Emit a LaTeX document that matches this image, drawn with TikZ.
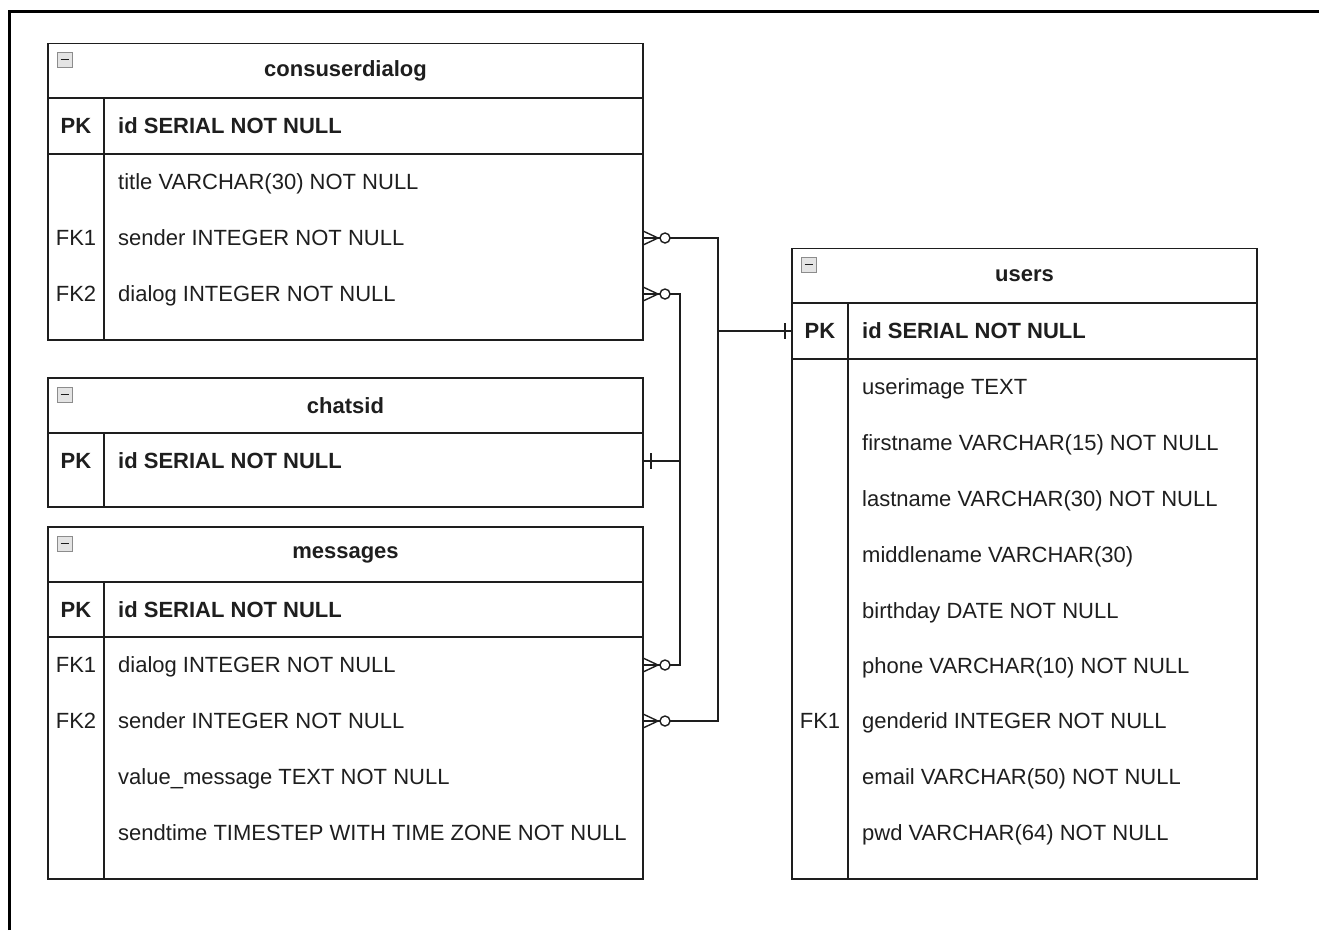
\documentclass[tikz,border=0pt]{standalone}
\usepackage{fontspec}
\setmainfont{Liberation Sans}
\usepackage{xcolor}
\usepackage{tikz}
\usetikzlibrary{positioning,calc}
\definecolor{erInk}{HTML}{1E1E1E}
\definecolor{erGray}{HTML}{8C8C8C}
\definecolor{erIcon}{HTML}{E4E4E4}
\newcommand{\erfont}{\fontsize{22}{26}\selectfont}

\begin{document}
\begin{tikzpicture}[
  x=1pt, y=-1pt,
  font=\erfont,
  tline/.style={draw=erInk, line width=1.4pt, inner sep=0pt, outer sep=0pt},
  thead/.style={tline, font=\erfont\bfseries, text=erInk, minimum height=55pt},
  kcell/.style={tline, anchor=north west, minimum width=56pt},
  fcell/.style={tline, anchor=north west},
  ktxt/.style={text=erInk, text height=15.75pt, text depth=0pt, inner sep=0pt},
  ftxt/.style={ktxt, anchor=west},
  pkey/.style={font=\erfont\bfseries},
  icon/.style={draw=erGray, fill=erIcon, line width=0.9pt, minimum size=15pt, inner sep=0pt,
    path picture={\draw[erInk, line width=1.8pt]
      ([xshift=3.5pt]path picture bounding box.west) -- ([xshift=-3.5pt]path picture bounding box.east);}},
  rel/.style={draw=erInk, line width=1.4pt},
  frame/.style={draw=black, line width=3pt},
  zeromany/.pic={
    \draw[rel] (0,-7) -- (15,0) -- (0,7);
    \draw[rel, fill=white] (22,0) circle[radius=5pt];
  },
  onebar/.pic={\draw[rel] (#1,-8) -- (#1,8);},
]
\useasboundingbox (0,0) rectangle (1319,930);

% ---- Rahmen ----
\draw[frame] (9.5,930) -- (9.5,11.5) -- (1319,11.5);

% ---- consuserdialog ----
\node[thead, minimum width=595pt] (cudHead) at (345.5,71) {consuserdialog};
\node[kcell, minimum height=56pt] (cudKeyBox) at (48,98) {};
\node[fcell, minimum width=539pt, minimum height=56pt] (cudPKBox) at (104,98) {};
\node[kcell, minimum height=186pt] (cudKeyCol) at (48,154) {};
\node[fcell, minimum width=539pt, minimum height=186pt] (cudFieldCol) at (104,154) {};
\node[icon] (cudIcon) at (64.5,59.5) {};
\node[ktxt, pkey] (cudPK) at (76,126) {PK};
\node[ftxt, pkey] (cudId) at (118,126) {id SERIAL NOT NULL};
\node[ftxt] (cudTitle) at (118,182) {title VARCHAR(30) NOT NULL};
\node[ktxt] (cudFK1) at (76,238) {FK1};
\node[ftxt] (cudSender) at (118,238) {sender INTEGER NOT NULL};
\node[ktxt] (cudFK2) at (76,294) {FK2};
\node[ftxt] (cudDialog) at (118,294) {dialog INTEGER NOT NULL};

% ---- chatsid ----
\node[thead, minimum width=595pt] (chtHead) at (345.5,405.5) {chatsid};
\node[kcell, minimum height=74pt] (chtKeyBox) at (48,433) {};
\node[fcell, minimum width=539pt, minimum height=74pt] (chtPKBox) at (104,433) {};
\node[icon] (chtIcon) at (64.5,394.5) {};
\node[ktxt, pkey] (chtPK) at (76,461) {PK};
\node[ftxt, pkey] (chtId) at (118,461) {id SERIAL NOT NULL};

% ---- messages ----
\node[thead, minimum width=595pt] (msgHead) at (345.5,554.5) {messages};
\node[kcell, minimum height=55pt] (msgKeyBox) at (48,582) {};
\node[fcell, minimum width=539pt, minimum height=55pt] (msgPKBox) at (104,582) {};
\node[kcell, minimum height=242pt] (msgKeyCol) at (48,637) {};
\node[fcell, minimum width=539pt, minimum height=242pt] (msgFieldCol) at (104,637) {};
\node[icon] (msgIcon) at (64.5,543.5) {};
\node[ktxt, pkey] (msgPK) at (76,609.5) {PK};
\node[ftxt, pkey] (msgId) at (118,609.5) {id SERIAL NOT NULL};
\node[ktxt] (msgFK1) at (76,665) {FK1};
\node[ftxt] (msgDialog) at (118,665) {dialog INTEGER NOT NULL};
\node[ktxt] (msgFK2) at (76,721) {FK2};
\node[ftxt] (msgSender) at (118,721) {sender INTEGER NOT NULL};
\node[ftxt] (msgValue) at (118,777) {value\_message TEXT NOT NULL};
\node[ftxt] (msgTime) at (118,833) {sendtime TIMESTEP WITH TIME ZONE NOT NULL};

% ---- users ----
\node[thead, minimum width=465pt] (usrHead) at (1024.5,276) {users};
\node[kcell, minimum height=56pt] (usrKeyBox) at (792,303) {};
\node[fcell, minimum width=409pt, minimum height=56pt] (usrPKBox) at (848,303) {};
\node[kcell, minimum height=520pt] (usrKeyCol) at (792,359) {};
\node[fcell, minimum width=409pt, minimum height=520pt] (usrFieldCol) at (848,359) {};
\node[icon] (usrIcon) at (808.5,264.5) {};
\node[ktxt, pkey] (usrPK) at (820,331) {PK};
\node[ftxt, pkey] (usrId) at (862,331) {id SERIAL NOT NULL};
\node[ftxt] (usrImage) at (862,387) {userimage TEXT};
\node[ftxt] (usrFirst) at (862,443) {firstname VARCHAR(15) NOT NULL};
\node[ftxt] (usrLast) at (862,499) {lastname VARCHAR(30) NOT NULL};
\node[ftxt] (usrMiddle) at (862,555) {middlename VARCHAR(30)};
\node[ftxt] (usrBirth) at (862,611) {birthday DATE NOT NULL};
\node[ftxt] (usrPhone) at (862,666) {phone VARCHAR(10) NOT NULL};
\node[ktxt] (usrFK1) at (820,721) {FK1};
\node[ftxt] (usrGender) at (862,721) {genderid INTEGER NOT NULL};
\node[ftxt] (usrMail) at (862,777) {email VARCHAR(50) NOT NULL};
\node[ftxt] (usrPwd) at (862,833) {pwd VARCHAR(64) NOT NULL};

% ---- Beziehungen ----
\draw[rel] (cudSender -| cudFieldCol.east) -- ++(75,0) |- (usrKeyBox.west);
\draw[rel] (cudDialog -| cudFieldCol.east) -- ++(37,0) |- (chtId -| chtPKBox.east);
\draw[rel] (msgDialog -| msgFieldCol.east) -- ++(37,0) |- (chtId -| chtPKBox.east);
\draw[rel] (msgSender -| msgFieldCol.east) -- ++(75,0) |- (usrKeyBox.west);

\pic at (cudSender -| cudFieldCol.east) {zeromany};
\pic at (cudDialog -| cudFieldCol.east) {zeromany};
\pic at (msgDialog -| msgFieldCol.east) {zeromany};
\pic at (msgSender -| msgFieldCol.east) {zeromany};
\pic at (chtId -| chtPKBox.east) {onebar=8};
\pic at (usrKeyBox.west) {onebar=-7};

\end{tikzpicture}
\end{document}
